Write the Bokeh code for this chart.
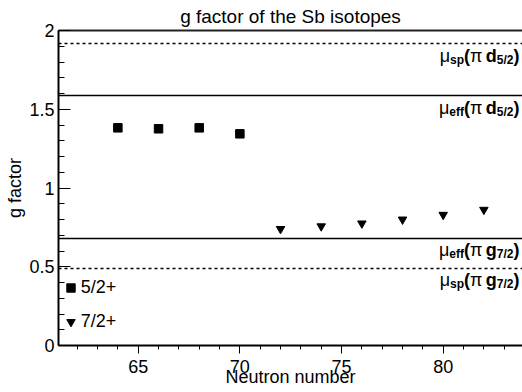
from bokeh.plotting import figure
from bokeh.models import (Range1d, FixedTicker, Legend, LegendItem, LinearAxis)
from bokeh.core.properties import value
from bokeh.embed import file_html
from bokeh.resources import INLINE

# ---------------- data ----------------
n_52 = [64, 66, 68, 70]
g_52 = [1.382, 1.376, 1.382, 1.344]
n_72 = [72, 74, 76, 78, 80, 82]
g_72 = [0.740, 0.757, 0.775, 0.800, 0.830, 0.862]

g_sp_d52 = 1.917
g_eff_d52 = 1.587
g_eff_g72 = 0.681
g_sp_g72 = 0.490

legend_labels = ["5/2+", "7/2+"]
x_ticks = [65, 70, 75, 80]
x_minor = list(range(62, 84))
y_ticks = [0, 0.5, 1, 1.5, 2]
y_tick_labels = ["0", "0.5", "1", "1.5", "2"]
y_minor = [i / 10 for i in range(0, 21)]

title_text = "g factor of the Sb isotopes"
x_title = "Neutron number"
y_title = "g factor"

# ---------------- style ----------------
FONT = "Liberation Sans"
W, H = 522, 392
X0, X1 = 61.08, 83.9

p = figure(width=W, height=H, output_backend="svg", toolbar_location=None,
           x_range=Range1d(X0, X1), y_range=Range1d(0, 2),
           min_border_left=58, min_border_right=0, min_border_top=30,
           min_border_bottom=47)
p.xgrid.visible = False
p.ygrid.visible = False
p.outline_line_color = None
p.background_fill_color = "white"
p.border_fill_color = "white"

# title
p.title.text = title_text
p.title.align = "center"
p.title.text_font = FONT
p.title.text_font_size = "19px"
p.title.text_font_style = "normal"
p.title.text_color = "black"
p.title.standoff = 7

# x axis
xa = p.xaxis[0]
xa.ticker = FixedTicker(ticks=x_ticks, minor_ticks=x_minor)
xa.major_tick_in = 0
xa.major_tick_out = 8
xa.minor_tick_in = 0
xa.minor_tick_out = 4
xa.axis_line_width = 2
xa.axis_line_color = "black"
xa.major_tick_line_color = "black"
xa.minor_tick_line_color = "black"
xa.major_label_text_font = FONT
xa.major_label_text_font_size = "18px"
xa.major_label_text_color = "black"
xa.major_label_standoff = 6
xa.axis_label = x_title
xa.axis_label_text_font = FONT
xa.axis_label_text_font_size = "18px"
xa.axis_label_text_font_style = "normal"
xa.axis_label_text_color = "black"
xa.axis_label_standoff = -9

# y axis
ya = p.yaxis[0]
ya.ticker = FixedTicker(ticks=y_ticks, minor_ticks=y_minor)
ya.major_label_overrides = {t: l for t, l in zip(y_ticks, y_tick_labels)}
ya.major_tick_in = 12
ya.major_tick_out = 0
ya.minor_tick_in = 6
ya.minor_tick_out = 0
ya.axis_line_width = 2
ya.axis_line_color = "black"
ya.major_tick_line_color = "black"
ya.minor_tick_line_color = "black"
ya.major_label_text_font = FONT
ya.major_label_text_font_size = "18px"
ya.major_label_text_color = "black"
ya.major_label_standoff = 4
ya.axis_label = y_title
ya.axis_label_text_font = FONT
ya.axis_label_text_font_size = "18px"
ya.axis_label_text_font_style = "normal"
ya.axis_label_text_color = "black"
ya.axis_label_standoff = 1

# top frame line
top = LinearAxis(ticker=FixedTicker(ticks=[]), major_tick_in=0, major_tick_out=0,
                 minor_tick_in=0, minor_tick_out=0, axis_line_width=2,
                 axis_line_color="#222222", major_label_text_font_size="0px",
                 major_label_standoff=0)
p.add_layout(top, "above")

# reference lines
p.hspan(y=[g_eff_d52, g_eff_g72], line_color="black", line_width=1.5)
p.hspan(y=[g_sp_d52, g_sp_g72], line_color="black", line_width=1.5,
        line_dash="3 3")

# data points
r52 = p.scatter(n_52, g_52, marker="square", size=8.5, color="black")
r72 = p.scatter(n_72, g_72, marker="inverted_triangle", size=8.5, color="black")

legend = Legend(items=[LegendItem(label=legend_labels[0], renderers=[r52]),
                       LegendItem(label=legend_labels[1], renderers=[r72])],
                location=(1.7, 13.5), padding=0, margin=0, spacing=13,
                glyph_width=21, glyph_height=21, label_height=21,
                label_standoff=-6, label_text_font=FONT,
                label_text_font_size="18px", label_text_color="black",
                border_line_color=None, background_fill_alpha=0)
p.add_layout(legend)

# composite labels: mu_sub(pi orb_sub)
WIDTHS = {
    "normal": {"μ": 0.576, "π": 0.60},
    "bold": {"s": .556, "p": .611, "e": .556, "f": .333, "(": .333, ")": .333,
             "d": .611, "g": .611, "5": .556, "/": .278, "2": .556, "7": .556},
}
GAP = 0.278 * 18  # the space between pi and the orbital letter
BASE_DY = 12      # px below the line for the main baseline
SUB_DY = 4        # extra drop of the subscripts


def add_level_label(yv, sub1, orb, sub2):
    pieces = [("μ", 18, "normal", False, 0), (sub1, 12, "bold", True, 0),
              ("(", 18, "bold", False, 0), ("π", 18, "normal", False, GAP),
              (orb, 18, "bold", False, 0), (sub2, 12, "bold", True, 0),
              (")", 18, "bold", False, 0)]
    widths = [sum(WIDTHS[st].get(c, 0.55) for c in t) * sz + gap
              for t, sz, st, _, gap in pieces]
    xo = -3 - sum(widths)
    for (t, sz, st, sub, _), w in zip(pieces, widths):
        p.text(x=[X1], y=[yv], text=[t], x_offset=xo,
               y_offset=BASE_DY + (SUB_DY if sub else 0), text_align="left",
               text_baseline="alphabetic", text_font=value(FONT),
               text_font_size=f"{sz}px", text_font_style=st,
               text_color="black")
        xo += w


add_level_label(g_sp_d52, "sp", "d", "5/2")
add_level_label(g_eff_d52, "eff", "d", "5/2")
add_level_label(g_eff_g72, "eff", "g", "7/2")
add_level_label(g_sp_g72, "sp", "g", "7/2")

open("out.html", "w").write(file_html(p, INLINE))
